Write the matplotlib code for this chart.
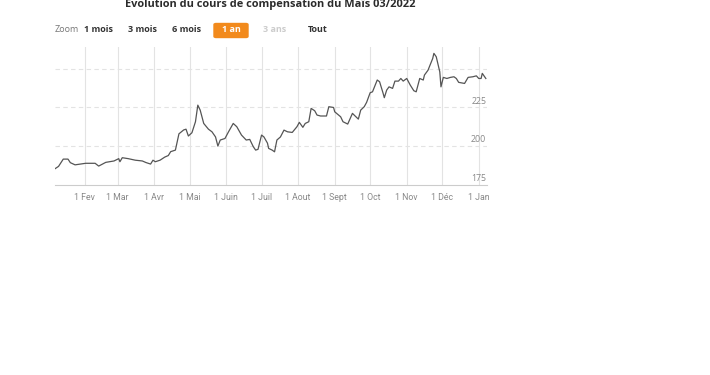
import matplotlib
matplotlib.use('Agg')
import matplotlib.pyplot as plt
import matplotlib.transforms as mtransforms
import pandas as pd
from matplotlib.patches import FancyBboxPatch

plt.rcParams['font.family'] = ['Open Sans', 'DejaVu Sans']

# prix de compensation
dates = ['2021-01-07', '2021-01-10', '2021-01-14', '2021-01-18', '2021-01-20', '2021-01-24',
         '2021-02-02', '2021-02-10', '2021-02-13', '2021-02-19', '2021-02-26', '2021-03-02',
         '2021-03-03', '2021-03-05', '2021-03-10', '2021-03-16', '2021-03-22', '2021-03-25',
         '2021-03-29', '2021-03-31', '2021-04-02', '2021-04-06', '2021-04-10', '2021-04-13',
         '2021-04-15', '2021-04-19', '2021-04-22', '2021-04-26', '2021-04-28', '2021-04-30',
         '2021-05-03', '2021-05-06', '2021-05-08', '2021-05-10', '2021-05-13', '2021-05-17',
         '2021-05-20', '2021-05-23', '2021-05-25', '2021-05-27', '2021-05-31', '2021-06-03',
         '2021-06-07', '2021-06-10', '2021-06-14', '2021-06-18', '2021-06-21', '2021-06-24',
         '2021-06-26', '2021-06-28', '2021-07-01', '2021-07-03', '2021-07-06', '2021-07-07',
         '2021-07-10', '2021-07-12', '2021-07-14', '2021-07-17', '2021-07-20', '2021-07-23',
         '2021-07-27', '2021-07-31', '2021-08-02', '2021-08-05', '2021-08-07', '2021-08-10',
         '2021-08-12', '2021-08-15', '2021-08-17', '2021-08-20', '2021-08-25', '2021-08-27',
         '2021-08-31', '2021-09-01', '2021-09-06', '2021-09-08', '2021-09-12', '2021-09-16',
         '2021-09-18', '2021-09-21', '2021-09-23', '2021-09-26', '2021-09-28', '2021-10-01',
         '2021-10-03', '2021-10-07', '2021-10-09', '2021-10-12', '2021-10-13', '2021-10-15',
         '2021-10-17', '2021-10-20', '2021-10-22', '2021-10-25', '2021-10-27', '2021-10-29',
         '2021-11-01', '2021-11-04', '2021-11-07', '2021-11-09', '2021-11-12', '2021-11-15',
         '2021-11-16', '2021-11-19', '2021-11-23', '2021-11-24', '2021-11-26', '2021-11-28',
         '2021-11-29', '2021-11-30', '2021-12-02', '2021-12-05', '2021-12-08', '2021-12-11',
         '2021-12-13', '2021-12-15', '2021-12-20', '2021-12-23', '2021-12-27', '2021-12-30',
         '2022-01-01', '2022-01-03', '2022-01-04', '2022-01-07']
prix = [185.5, 187.0, 191.7, 191.7, 189.4, 188.0,
        189.0, 189.0, 187.2, 189.6, 190.5, 192.0,
        190.0, 192.6, 192.0, 191.0, 190.5, 189.5,
        188.5, 191.0, 190.0, 191.0, 193.0, 194.0,
        196.5, 197.5, 208.0, 210.5, 211.0, 206.6,
        208.7, 215.8, 226.5, 223.3, 214.7, 211.0,
        209.3, 206.0, 200.1, 204.0, 205.0, 209.3,
        214.7, 212.6, 207.2, 204.0, 204.4, 199.7,
        197.5, 198.0, 207.2, 206.0, 202.0, 198.6,
        197.5, 196.4, 204.0, 206.0, 210.4, 209.3,
        208.9, 212.6, 215.4, 212.2, 214.7, 215.8,
        224.4, 222.9, 220.1, 219.5, 219.5, 225.5,
        225.0, 222.2, 219.0, 215.8, 214.3, 221.2,
        219.7, 217.5, 223.3, 225.5, 228.3, 234.5,
        235.1, 242.7, 241.6, 234.1, 231.3, 236.2,
        238.3, 237.3, 242.0, 242.0, 243.7, 242.0,
        243.7, 239.4, 235.8, 235.1, 243.7, 242.7,
        245.9, 249.0, 256.6, 259.9, 257.7, 251.2,
        248.0, 238.3, 244.4, 243.7, 244.4, 244.8,
        243.7, 241.2, 240.5, 244.4, 244.8, 245.4,
        243.7, 243.7, 247.0, 243.7]

mois_labels = ['1 Fev', '1 Mar', '1 Avr', '1 Mai', '1 Juin', '1 Juil', '1 Aout',
               '1 Sept', '1 Oct', '1 Nov', '1 Déc', '1 Jan']
y_ticks = [175, 200, 225, 250]
y_labels = ['175', '200', '225', '']

boutons = ['1 mois', '3 mois', '6 mois', '1 an', '3 ans', 'Tout']
boutons_x = [99, 143, 187, 231, 275, 318]

dts = pd.to_datetime(dates)
mois = pd.date_range('2021-02-01', '2022-01-01', freq='MS')

fig = plt.figure(figsize=(7.1, 3.75), dpi=100)
W, H = 710, 375
ax = fig.add_axes([55 / W, 1 - 185 / H, (487 - 55) / W, (185 - 47) / H])

ax.plot(dts, prix, color='#555555', lw=0.9)
ax.set_xlim(pd.Timestamp('2021-01-07'), pd.Timestamp('2022-01-08'))
ax.set_ylim(175, 264)

ax.set_xticks(mois)
ax.set_xticklabels(mois_labels, family=['Roboto', 'DejaVu Sans'])
ax.grid(axis='x', color='#e3e3e3', lw=0.8)
for v in y_ticks[1:]:
    ax.axhline(v, color='#e3e3e3', lw=0.8, ls=(0, (4, 3)), zorder=0)
ax.set_yticks([])
ax.tick_params(axis='x', length=0, pad=6, labelsize=6.3, labelcolor='#888888')

trans = mtransforms.blended_transform_factory(ax.transAxes, ax.transData)
for v, lab in zip(y_ticks, y_labels):
    ax.text(0.998, v + 1.2, lab, transform=trans, ha='right', va='bottom',
            fontsize=6.3, color='#888888')

for s in ['top', 'right', 'left']:
    ax.spines[s].set_visible(False)
ax.spines['bottom'].set_color('#cccccc')
ax.set_axisbelow(True)

fig.text(270 / W, 1 - 4 / H, 'Evolution du cours de compensation du Maïs 03/2022',
         ha='center', va='center', fontsize=7.9, fontweight='bold', color='#2b2b2b')

fig.text(67 / W, 1 - 30 / H, 'Zoom', ha='center', va='center', fontsize=6.5, color='#777777')
for lab, bx in zip(boutons, boutons_x):
    couleur = '#333333'
    if lab == '1 an':
        fig.patches.append(FancyBboxPatch(((bx - 17) / W, 1 - 37.5 / H), 34 / W, 14 / H,
                                          boxstyle='round,pad=0,rounding_size=0.003',
                                          transform=fig.transFigure, color='#f28a1c'))
        couleur = 'white'
    elif lab == '3 ans':
        couleur = '#cccccc'
    fig.text(bx / W, 1 - 30 / H, lab, ha='center', va='center', fontsize=6.5,
             fontweight='bold', color=couleur)

fig.savefig('out.png', dpi=100)
